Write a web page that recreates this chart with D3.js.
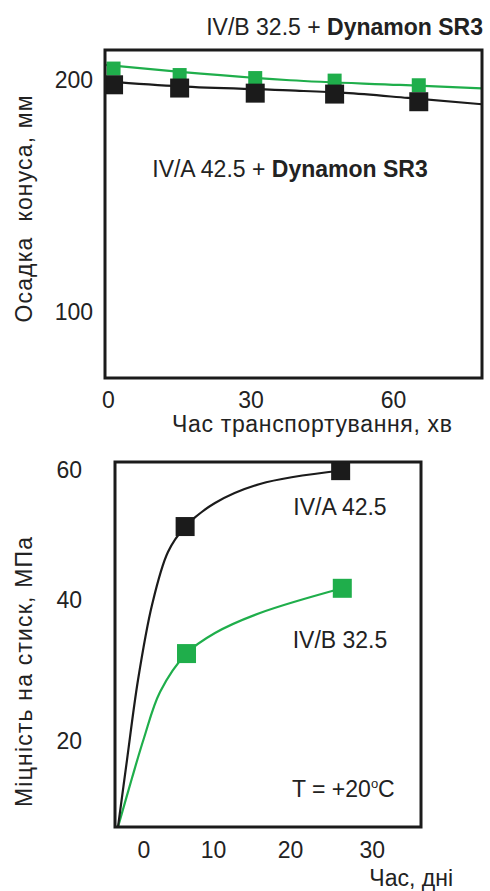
<!DOCTYPE html>
<html><head><meta charset="utf-8">
<script src="https://cdn.jsdelivr.net/npm/d3@7"></script>
<style>
html,body{margin:0;padding:0;background:#fff;}
svg{display:block;}
text{font-family:"Liberation Sans",Arial,sans-serif;fill:#222;}
</style></head>
<body>
<svg id="c" width="490" height="891"></svg>
<script>
// ---------- DATA: top chart (slump vs transport time) ----------
const slumpTime  = [1.2, 15.1, 31, 47.7, 65.4];
const slumpA     = [198.0, 196.6, 194.4, 194.0, 190.7];   // IV/A 42.5 + Dynamon SR3 (black)
const slumpB     = [205.0, 202.2, 200.9, 199.8, 197.8];   // IV/B 32.5 + Dynamon SR3 (green)
const fitATime   = [-0.6, 15.18, 38.31, 49.88, 63.13, 78.7];
const fitAValue  = [199.44, 197.28, 195.56, 194.48, 192.33, 189.61];
const fitBTime   = [-0.6, 15.18, 38.31, 61.45, 78.7];
const fitBValue  = [206.55, 203.54, 199.96, 197.93, 196.42];
const slumpYTicks = [100, 200];
const slumpXTicks = [0, 30, 60];

// ---------- DATA: bottom chart (strength vs age) ----------
const ageTime    = [6.0, 26.2];
const strengthA  = [51.3, 59.9];   // IV/A 42.5 (black)
const ageTimeB   = [6.2, 26.4];
const strengthB  = [32.4, 41.8];   // IV/B 32.5 (green)
const curveATime = [-3.63, -2.34, -0.76, 1.25, 3.54, 5.98, 10.26, 16.10, 26.24];
const curveAVal  = [7.80, 17.30, 28.65, 39.29, 47.38, 51.23, 54.92, 57.85, 59.92];
const curveBTime = [-3.63, -1.62, 0.10, 2.40, 6.20, 10.26, 16.10, 26.49];
const curveBVal  = [7.80, 14.75, 20.43, 26.95, 32.41, 35.32, 38.16, 41.85];
const strYTicks  = [20, 40, 60];
const strXTicks  = [0, 10, 20, 30];

const BLACK = "#1b1b1b", GREEN = "#1fae4b";
const svg = d3.select("#c");
const zip = (a, b) => a.map((v, i) => [v, b[i]]);

// ================= TOP CHART =================
{
  const L = 105, R = 482, T = 50, B = 378;
  const x = d3.scaleLinear().domain([-0.6, 78.7]).range([L, R]);
  const y = d3.scaleLinear().domain([71.6, 213]).range([B, T]);
  const g = svg.append("g");
  g.append("clipPath").attr("id", "clipTop").append("rect")
    .attr("x", L).attr("y", T).attr("width", R - L).attr("height", B - T);

  const line = d3.line().x(d => x(d[0])).y(d => y(d[1])).curve(d3.curveMonotoneX);
  const plot = g.append("g").attr("clip-path", "url(#clipTop)");
  plot.append("path").datum(zip(fitBTime, fitBValue)).attr("d", line)
    .attr("fill", "none").attr("stroke", GREEN).attr("stroke-width", 2.2);
  plot.append("path").datum(zip(fitATime, fitAValue)).attr("d", line)
    .attr("fill", "none").attr("stroke", BLACK).attr("stroke-width", 2.2);
  const sG = 14, sB = 19;
  plot.selectAll(".mg").data(zip(slumpTime, slumpB)).join("rect")
    .attr("x", d => x(d[0]) - sG / 2).attr("y", d => y(d[1]) - sG / 2)
    .attr("width", sG).attr("height", sG).attr("fill", GREEN);
  plot.selectAll(".mb").data(zip(slumpTime, slumpA)).join("rect")
    .attr("x", d => x(d[0]) - sB / 2).attr("y", d => y(d[1]) - sB / 2)
    .attr("width", sB).attr("height", sB).attr("fill", BLACK);

  g.append("rect").attr("x", L).attr("y", T).attr("width", R - L).attr("height", B - T)
    .attr("fill", "none").attr("stroke", BLACK).attr("stroke-width", 3);

  const ya = g.append("g").attr("transform", `translate(${L},0)`)
    .call(d3.axisLeft(y).tickValues(slumpYTicks).tickSize(0).tickPadding(12));
  ya.select(".domain").remove();
  ya.selectAll("text").attr("font-size", 23).attr("font-family", "Liberation Sans").attr("fill", "#222");
  const xa = g.append("g").attr("transform", `translate(0,${B})`)
    .call(d3.axisBottom(x).tickValues(slumpXTicks).tickSize(0).tickPadding(13.5));
  xa.select(".domain").remove();
  xa.selectAll("text").attr("font-size", 23).attr("font-family", "Liberation Sans").attr("fill", "#222");

  g.append("text").attr("x", 312).attr("y", 432).attr("text-anchor", "middle")
    .attr("font-size", 23).attr("textLength", 280).attr("lengthAdjust", "spacing")
    .text("Час транспортування, хв");
  g.append("text").attr("transform", "translate(32,209) rotate(-90)").attr("text-anchor", "middle")
    .attr("font-size", 23).attr("textLength", 227).attr("lengthAdjust", "spacing")
    .text("Осадка\u00a0\u00a0конуса, мм");

  const t1 = g.append("text").attr("x", 483).attr("y", 35).attr("text-anchor", "end").attr("font-size", 23);
  t1.append("tspan").text("IV/B 32.5 + ");
  t1.append("tspan").attr("font-weight", "bold").text("Dynamon SR3");
  const t2 = g.append("text").attr("x", 290).attr("y", 177).attr("text-anchor", "middle").attr("font-size", 23);
  t2.append("tspan").text("IV/A 42.5 + ");
  t2.append("tspan").attr("font-weight", "bold").text("Dynamon SR3");
}

// ================= BOTTOM CHART =================
{
  const L = 115, R = 421, T = 462, B = 827;
  const x = d3.scaleLinear().domain([0, 10, 20, 30]).range([143.3, 213, 290, 371.7]);
  const y = d3.scaleLinear().domain([20, 40, 60]).range([741, 600, 470]);
  const g = svg.append("g");

  const line = d3.line().x(d => x(d[0])).y(d => y(d[1])).curve(d3.curveCatmullRom.alpha(0.5));
  g.append("path").datum(zip(curveBTime, curveBVal)).attr("d", line)
    .attr("fill", "none").attr("stroke", GREEN).attr("stroke-width", 2.2);
  g.append("path").datum(zip(curveATime, curveAVal)).attr("d", line)
    .attr("fill", "none").attr("stroke", BLACK).attr("stroke-width", 2.2);
  const s = 19;
  g.selectAll(".bg").data(zip(ageTimeB, strengthB)).join("rect")
    .attr("x", d => x(d[0]) - s / 2).attr("y", d => y(d[1]) - s / 2)
    .attr("width", s).attr("height", s).attr("fill", GREEN);
  g.selectAll(".bb").data(zip(ageTime, strengthA)).join("rect")
    .attr("x", d => x(d[0]) - s / 2).attr("y", d => y(d[1]) - s / 2)
    .attr("width", s).attr("height", s).attr("fill", BLACK);

  g.append("rect").attr("x", L).attr("y", T).attr("width", R - L).attr("height", B - T)
    .attr("fill", "none").attr("stroke", BLACK).attr("stroke-width", 3);

  const ya = g.append("g").attr("transform", `translate(${L},0)`)
    .call(d3.axisLeft(y).tickValues(strYTicks).tickSize(0).tickPadding(33));
  ya.select(".domain").remove();
  ya.selectAll("text").attr("font-size", 23).attr("font-family", "Liberation Sans").attr("fill", "#222");
  const xa = g.append("g").attr("transform", `translate(0,${B})`)
    .call(d3.axisBottom(x).tickValues(strXTicks).tickSize(0).tickPadding(14.5));
  xa.select(".domain").remove();
  xa.selectAll("text").attr("font-size", 23).attr("font-family", "Liberation Sans").attr("fill", "#222");

  g.append("text").attr("x", 453).attr("y", 886).attr("text-anchor", "end")
    .attr("font-size", 23).text("Час, дні");
  g.append("text").attr("transform", "translate(32,672) rotate(-90)").attr("text-anchor", "middle")
    .attr("font-size", 23).attr("textLength", 270).attr("lengthAdjust", "spacing")
    .text("Міцність на стиск, МПа");

  g.append("text").attr("x", 340).attr("y", 515).attr("text-anchor", "middle").attr("font-size", 23).text("IV/A 42.5");
  g.append("text").attr("x", 340).attr("y", 648).attr("text-anchor", "middle").attr("font-size", 23).text("IV/B 32.5");
  const tt = g.append("text").attr("x", 292).attr("y", 797).attr("font-size", 23);
  tt.append("tspan").text("T = +20");
  tt.append("tspan").attr("font-size", 13).attr("dy", -9).text("o");
  tt.append("tspan").attr("dy", 9).text("C");
}
</script>
</body></html>
